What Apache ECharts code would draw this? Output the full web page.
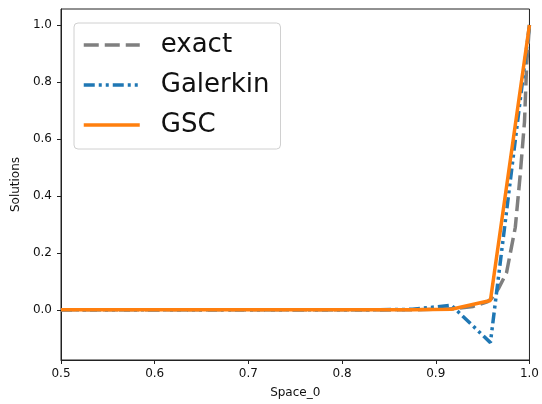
<!DOCTYPE html>
<html>
<head>
<meta charset="utf-8">
<script src="https://cdn.jsdelivr.net/npm/echarts@6/dist/echarts.min.js"></script>
<style>
html,body{margin:0;padding:0;background:#fff;}
#chart{width:542px;height:404px;}
</style>
</head>
<body>
<div id="chart"></div>
<script>
// ---- data ----
const meshX = [0.5, 0.54167, 0.58333, 0.625, 0.66667, 0.70833, 0.75, 0.79167, 0.83333, 0.875, 0.91667, 0.95833, 1.0];
const galerkinY = [0, 0, 0, 0, 0, 0, 0, 0, 0, 0.002, 0.016, -0.115, 1.0];
const gscY = [0, 0, 0, 0, 0, 0, 0, 0, 0, 0, 0.002, 0.033, 1.0];
const exactX = [0.5, 0.88, 0.92, 0.94, 0.955, 0.9596, 0.967, 0.9755, 0.9849, 0.990, 0.9947, 0.997, 1.0];
const exactY = [0, 0, 0.004, 0.012, 0.028, 0.04, 0.075, 0.13, 0.29, 0.47, 0.66, 0.86, 1.0];
const seriesNames = ['exact', 'Galerkin', 'GSC'];
const xTicks = [0.5, 0.6, 0.7, 0.8, 0.9, 1.0];
const yTicks = [0.0, 0.2, 0.4, 0.6, 0.8, 1.0];
const xLabel = 'Space_0';
const yLabel = 'Solutions';

const pair = (xs, ys) => xs.map((x, i) => [x, ys[i]]);
const font = 'DejaVu Sans';

const chart = echarts.init(document.getElementById('chart'), null, {renderer: 'canvas'});
chart.setOption({
  animation: false,
  backgroundColor: '#fff',
  grid: {left: 61, right: 11, top: 9, bottom: 42, show: true, borderColor: '#222', borderWidth: 1, containLabel: false},
  xAxis: {
    type: 'value', min: 0.5, max: 1.0,
    name: xLabel, nameLocation: 'middle', nameGap: 27,
    nameTextStyle: {fontFamily: font, fontSize: 12, color: '#111'},
    axisLine: {show: true, onZero: false, lineStyle: {color: '#222', width: 1}},
    axisTick: {show: true, inside: false, length: 4, customValues: xTicks, lineStyle: {color: '#222'}},
    axisLabel: {show: true, margin: 8, customValues: xTicks, fontFamily: font, fontSize: 12, color: '#111',
      formatter: v => v.toFixed(1)},
    splitLine: {show: false}
  },
  yAxis: {
    type: 'value', min: -0.176, max: 1.056,
    name: yLabel, nameLocation: 'middle', nameGap: 34, nameRotate: 90,
    nameTextStyle: {fontFamily: font, fontSize: 12, color: '#111'},
    axisLine: {show: true, onZero: false, lineStyle: {color: '#222', width: 1}},
    axisTick: {show: true, inside: false, length: 4, customValues: yTicks, lineStyle: {color: '#222'}},
    axisLabel: {show: true, margin: 9, customValues: yTicks, fontFamily: font, fontSize: 12, color: '#111',
      formatter: v => v.toFixed(1)},
    splitLine: {show: false}
  },
  legend: {
    orient: 'vertical', left: 74, top: 23,
    data: seriesNames,
    itemWidth: 56, itemHeight: 14, itemGap: 12,
    padding: [8, 11, 10, 8],
    backgroundColor: 'rgba(255,255,255,0.8)',
    borderColor: '#d0d0d0', borderWidth: 1, borderRadius: 4,
    itemStyle: {opacity: 0},
    lineStyle: {width: 3.5},
    textStyle: {fontFamily: font, fontSize: 26, color: '#111', lineHeight: 28, padding: [0, 0, 0, 16]}
  },
  series: [
    {
      name: seriesNames[0], type: 'line', data: pair(exactX, exactY),
      symbol: 'none', showSymbol: false, z: 2,
      lineStyle: {color: '#7f7f7f', width: 3.5, type: [15, 6], cap: 'butt'},
      itemStyle: {color: '#7f7f7f'}
    },
    {
      name: seriesNames[1], type: 'line', data: pair(meshX, galerkinY),
      symbol: 'none', showSymbol: false, z: 3,
      lineStyle: {color: '#1f77b4', width: 3.5, type: [11, 4, 3, 4, 3, 4], cap: 'butt'},
      itemStyle: {color: '#1f77b4'}
    },
    {
      name: seriesNames[2], type: 'line', data: pair(meshX, gscY),
      symbol: 'none', showSymbol: false, z: 4,
      lineStyle: {color: '#ff7f0e', width: 3.5, cap: 'butt'},
      itemStyle: {color: '#ff7f0e'}
    }
  ]
});
</script>
</body>
</html>
